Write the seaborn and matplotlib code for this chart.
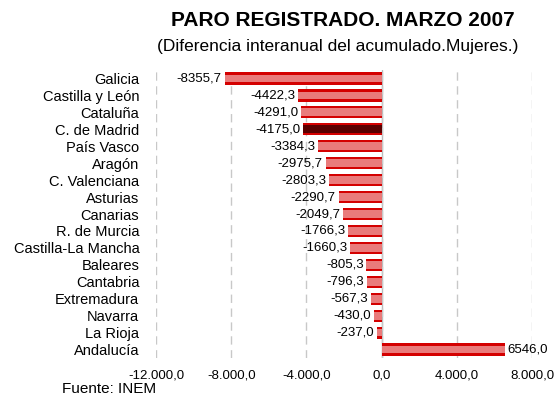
import matplotlib
matplotlib.use("Agg")
import matplotlib.pyplot as plt
import seaborn as sns
import pandas as pd
from matplotlib.ticker import FuncFormatter

regions = ["Galicia", "Castilla y León", "Cataluña", "C. de Madrid", "País Vasco",
           "Aragón", "C. Valenciana", "Asturias", "Canarias", "R. de Murcia",
           "Castilla-La Mancha", "Baleares", "Cantabria", "Extremadura", "Navarra",
           "La Rioja", "Andalucía"]
values = [-8355.7, -4422.3, -4291.0, -4175.0, -3384.3, -2975.7, -2803.3, -2290.7,
          -2049.7, -1766.3, -1660.3, -805.3, -796.3, -567.3, -430.0, -237.0, 6546.0]
highlight = "C. de Madrid"
xticks = [-12000, -8000, -4000, 0, 4000, 8000]

sns.set_style("white")
plt.rcParams['font.family'] = ['Liberation Sans', 'DejaVu Sans']
plt.rcParams['text.color'] = 'black'
plt.rcParams['xtick.color'] = 'black'
plt.rcParams['ytick.color'] = 'black'

df = pd.DataFrame({"region": regions, "value": values})
outer = ["#d40000" for r in regions]
inner = ["#5a0000" if r == highlight else "#e97b7b" for r in regions]

fig = plt.figure(figsize=(5.56, 4.01), dpi=100)
ax = fig.add_axes([0.2806, 0.1072, 0.6762, 0.7182])

sns.barplot(data=df, y="region", x="value", order=regions, hue="region",
            palette=outer, legend=False, width=0.72, ax=ax, linewidth=0,
            orient="h", saturation=1)
sns.barplot(data=df, y="region", x="value", order=regions, hue="region",
            palette=inner, legend=False, width=0.46, ax=ax, linewidth=0,
            orient="h", saturation=1)

ax.set_xlim(-12000, 8000)
ax.set_ylim(16.5, -0.5)
ax.set_xticks(xticks)
ax.xaxis.set_major_formatter(FuncFormatter(
    lambda v, p: f"{v:,.1f}".replace(",", "X").replace(".", ",").replace("X", ".")))
ax.grid(axis="x", color="#c8c8c8", linestyle=(0, (6, 4)), linewidth=1)
ax.set_axisbelow(True)
ax.axvline(0, color="#bbbbbb", linewidth=1, zorder=0.5)
for s in ax.spines.values():
    s.set_visible(False)
ax.set_xlabel("")
ax.set_ylabel("")
ax.tick_params(axis="both", length=0)
ax.tick_params(axis="y", labelsize=10.5, pad=12)
ax.tick_params(axis="x", labelsize=9.5, pad=8)

for i, v in enumerate(values):
    lab = f"{v:.1f}".replace(".", ",")
    if v < 0:
        ax.text(v - 150, i, lab, ha="right", va="center", fontsize=9.5)
    else:
        ax.text(v + 150, i, lab, ha="left", va="center", fontsize=9.5)

fig.text(0.617, 0.95, "PARO REGISTRADO. MARZO 2007", ha="center", va="center",
         fontsize=15, fontweight="bold")
fig.text(0.608, 0.883, "(Diferencia interanual del acumulado.Mujeres.)", ha="center",
         va="center", fontsize=12.5)
fig.text(0.112, 0.012, "Fuente: INEM", ha="left", va="bottom", fontsize=11)

fig.savefig("out.png", dpi=100)
